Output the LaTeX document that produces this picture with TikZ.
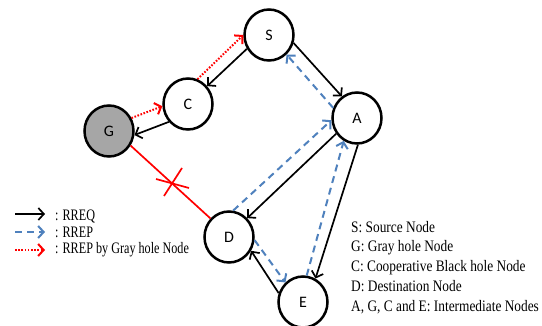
\documentclass[tikz,border=0pt]{standalone}
\usepackage{fontspec}
\setmainfont{Liberation Serif}
\newfontfamily\nodefont{Carlito}
\newfontfamily\legL[FakeStretch=0.76]{Liberation Serif}
\newfontfamily\legR[FakeStretch=0.835]{Liberation Serif}
\usetikzlibrary{arrows.meta,shapes.geometric}
\definecolor{rrepblue}{RGB}{79,129,189}
\definecolor{holegray}{RGB}{166,166,166}
\begin{document}
\begin{tikzpicture}[x=1pt,y=-1pt,
  netnode/.style={ellipse, draw, line width=2.5pt, minimum width=49pt, minimum height=51pt, inner sep=0pt, font=\nodefont\fontsize{16}{16}\selectfont},
  tipbarb/.style={-{Straight Barb[length=5.5pt,width=12pt]}},
  rreq/.style={tipbarb, line width=1.7pt, black},
  rrep/.style={tipbarb, line width=2pt, rrepblue, dash pattern=on 7pt off 5pt},
  rrepg/.style={tipbarb, line width=2pt, red, dash pattern=on 1.6pt off 1.6pt},
  cut/.style={red, line width=1.7pt},
  legl/.style={anchor=base west, inner sep=0pt, font=\legL\fontsize{16}{16}\selectfont},
  legr/.style={anchor=base west, inner sep=0pt, font=\legR\fontsize{16}{16}\selectfont},
]
\useasboundingbox[fill=white] (0,0) rectangle (542,326);

% nodes
\node[netnode] (S) at (269,35) {S};
\node[netnode] (C) at (188,104) {C};
\node[netnode, fill=holegray] (G) at (109,131) {G};
\node[netnode] (A) at (357,118) {A};
\node[netnode] (D) at (229,237) {D};
\node[netnode] (E) at (303,302) {E};

% S - C
\draw[rreq] (S.212) -- (C.43);
\draw[rrepg] (C.69) -- (S.180);
% G - C
\draw[rrepg] (G.30) -- (C.185);
\draw[rreq] (C.223) -- (G.-9);
% G - D broken link
\draw[cut] (G.-34) -- (D.135);
\coordinate (xa1) at (156,179);
\coordinate (xa2) at (189,188);
\coordinate (xb1) at (164,196);
\coordinate (xb2) at (182,168);
\draw[cut] (xa1) -- (xa2);
\draw[cut] (xb1) -- (xb2);
% S - A
\draw[rreq] (S.-18) -- (A.125);
\draw[rrep] (A.157) -- (S.-48);
% D - A
\draw[rrep] (D.81) -- (A.185);
\draw[rreq] (A.217) -- (D.46);
% E - A
\draw[rrep] (E.82) -- (A.240);
\draw[rreq] (A.-88) -- (E.62);
% D - E
\draw[rrep] (D.-7) -- (E.132);
\draw[rreq] (E.160) -- (D.-32);

% legend left
\coordinate (la1) at (15,214);
\coordinate (la2) at (45,214);
\coordinate (lb1) at (15,232);
\coordinate (lb2) at (45,232);
\coordinate (lc1) at (15,250);
\coordinate (lc2) at (45,250);
\draw[rreq] (la1) -- (la2);
\draw[rrep] (lb1) -- (lb2);
\draw[rrepg] (lc1) -- (lc2);
\node[legl] (t1) at (55,220.7) {: RREQ};
\node[legl] (t2) at (55,237.3) {: RREP};
\node[legl] (t3) at (55,253.5) {: RREP by Gray hole Node};

% legend right
\node[legr] (r1) at (351,232.3) {S: Source Node};
\node[legr] (r2) at (351,252) {G: Gray hole Node};
\node[legr] (r3) at (351,271.7) {C: Cooperative Black hole Node};
\node[legr] (r4) at (351,291.5) {D: Destination Node};
\node[legr] (r5) at (351,311.3) {A, G, C and E: Intermediate Nodes};
\end{tikzpicture}
\end{document}
